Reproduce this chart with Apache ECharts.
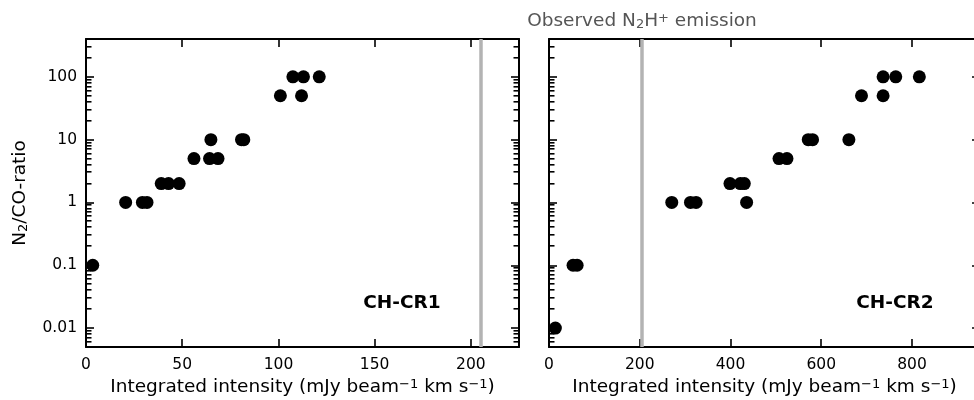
<!DOCTYPE html>
<html><head><meta charset="utf-8">
<script src="https://cdn.jsdelivr.net/npm/echarts@6/dist/echarts.min.js"></script>
<style>html,body{margin:0;padding:0;background:#fff}#c{width:974px;height:400px}</style>
</head><body><div id="c"></div>
<script>
// ---- data ----
const cr1X = [3.5, 20.6, 29.3, 31.7, 39.1, 42.9, 48.4, 56.1, 64.2, 68.6, 64.9, 80.8, 82.0, 101.0, 112.0, 107.5, 113.0, 121.2];
const cr1Y = [0.1, 1, 1, 1, 2, 2, 2, 5, 5, 5, 10, 10, 10, 50, 50, 100, 100, 100];
const cr2X = [14, 53, 62, 270.6, 311.8, 324.2, 435.6, 398.9, 421.7, 430.5, 507, 524.5, 571.4, 580.9, 661, 688.8, 736.4, 736.4, 764.3, 816.3];
const cr2Y = [0.01, 0.1, 0.1, 1, 1, 1, 1, 2, 2, 2, 5, 5, 10, 10, 10, 50, 50, 100, 100, 100];
const yTickLabels = ['0.01', '0.1', '1', '10', '100'];
const xTicks1 = [0, 50, 100, 150, 200];
const xTicks2 = [0, 200, 400, 600, 800];
const emissionX = 205;
const panelNames = ['CH-CR1', 'CH-CR2'];

// ---- layout / style ----
const FONT = 'DejaVu Sans';
const TICK_FS = 15.5, NAME_FS = 18.5, SUB_FS = 13;
const X1 = [0, 225], X2 = [0, 950], YR = [0.005, 400];
const minorVals = [];
for (let e = -3; e <= 2; e++) {
  for (let m = 2; m <= 9; m++) {
    const v = Number((m * Math.pow(10, e)).toPrecision(3));
    if (v >= YR[0] && v <= YR[1]) minorVals.push(v);
  }
}
const zip = (a, b) => a.map((v, i) => [v, b[i]]);

function yLabel(v) {
  const e = Math.log10(v);
  if (Math.abs(e - Math.round(e)) > 1e-6) return '';
  const i = Math.round(e) + 2;
  return yTickLabels[i] || '';
}
const lineStyle = { color: '#000', width: 2 };
const majorTick = { show: true, inside: true, length: 8, lineStyle: { color: '#000', width: 1.6 } };
const xName = 'Integrated intensity (mJy beam{sup|\u22121} km s{sup|\u22121})';
const rich = {
  sup: { fontSize: SUB_FS, fontFamily: FONT, verticalAlign: 'top', color: '#000', lineHeight: 17 },
  sub: { fontSize: SUB_FS, fontFamily: FONT, verticalAlign: 'bottom', color: '#000', lineHeight: 17 }
};

function xAxes(gi, ext, ticks) {
  const step = ticks[1] - ticks[0];
  return [
    { type: 'value', gridIndex: gi, min: ext[0], max: ext[1], interval: step, position: 'bottom',
      axisLine: { show: true, onZero: false, lineStyle }, axisTick: majorTick, splitLine: { show: false },
      axisLabel: { show: true, margin: 10, fontFamily: FONT, fontSize: TICK_FS, color: '#000', showMaxLabel: false,
        formatter: v => ticks.includes(v) ? String(v) : '' },
      name: xName, nameLocation: 'middle', nameGap: 30,
      nameTextStyle: { fontFamily: FONT, fontSize: NAME_FS, color: '#000', rich } },
    { type: 'value', gridIndex: gi, min: ext[0], max: ext[1], interval: step, position: 'top',
      axisLine: { show: true, onZero: false, lineStyle }, axisTick: majorTick, splitLine: { show: false },
      axisLabel: { show: false } }
  ];
}
function yAxes(gi, showLabels) {
  const base = { type: 'log', logBase: 10, gridIndex: gi, min: YR[0], max: YR[1],
    axisLine: { show: true, onZero: false, lineStyle }, axisTick: majorTick, splitLine: { show: false } };
  const left = Object.assign({}, base, { position: 'left',
    axisLabel: { show: showLabels, margin: 9, fontFamily: FONT, fontSize: TICK_FS, color: '#000', formatter: yLabel,
      showMinLabel: false, showMaxLabel: false } });
  if (showLabels) Object.assign(left, {
    name: 'N{sub|2}/CO-ratio', nameLocation: 'middle', nameGap: 56, nameRotate: 90,
    nameTextStyle: { fontFamily: FONT, fontSize: NAME_FS, color: '#000', rich } });
  const right = Object.assign({}, base, { position: 'right', axisLabel: { show: false } });
  return [left, right];
}
function vline(withLabel) {
  return {
    symbol: 'none', silent: true, animation: false,
    lineStyle: { color: '#b3b3b3', width: 3.5, type: 'solid' },
    label: withLabel ? {
      show: true, position: 'end', distance: 8, color: '#555', fontFamily: FONT, fontSize: NAME_FS,
      formatter: 'Observed N{sub|2}H{sup|+} emission',
      rich: {
        sub: { fontSize: SUB_FS, fontFamily: FONT, verticalAlign: 'bottom', color: '#555', lineHeight: 19 },
        sup: { fontSize: SUB_FS, fontFamily: FONT, verticalAlign: 'top', color: '#555', lineHeight: 19 }
      }
    } : { show: false },
    data: [{ xAxis: emissionX }]
  };
}

const textEls = [
  { type: 'text', x: 402, y: 303, style: { text: panelNames[0], font: 'bold 18.5px "DejaVu Sans"', fill: '#000', align: 'center', verticalAlign: 'middle' } },
  { type: 'text', x: 895, y: 303, style: { text: panelNames[1], font: 'bold 18.5px "DejaVu Sans"', fill: '#000', align: 'center', verticalAlign: 'middle' } }
];

const chart = echarts.init(document.getElementById('c'), null, { renderer: 'canvas' });
chart.setOption({
  animation: false,
  backgroundColor: '#fff',
  grid: [
    { left: 86, top: 39, width: 433, height: 308, outerBoundsMode: 'none', containLabel: false },
    { left: 549, top: 39, width: 431, height: 308, outerBoundsMode: 'none', containLabel: false }
  ],
  xAxis: [...xAxes(0, X1, xTicks1), ...xAxes(1, X2, xTicks2)],
  yAxis: [...yAxes(0, true), ...yAxes(1, false)],
  series: [
    { type: 'scatter', xAxisIndex: 0, yAxisIndex: 0, data: zip(cr1X, cr1Y), symbolSize: 13,
      itemStyle: { color: '#000', opacity: 1 }, markLine: vline(false), z: 3 },
    { type: 'scatter', xAxisIndex: 2, yAxisIndex: 2, data: zip(cr2X, cr2Y), symbolSize: 13,
      itemStyle: { color: '#000', opacity: 1 }, markLine: vline(true), z: 3 }
  ],
  graphic: textEls
});

// minor log ticks, placed with the library's own scale (convertToPixel)
const minorEls = [];
[[0, X1], [1, X2]].forEach(([si, ext]) => {
  minorVals.forEach(v => {
    const pL = chart.convertToPixel({ seriesIndex: si }, [ext[0], v]);
    const pR = chart.convertToPixel({ seriesIndex: si }, [ext[1], v]);
    const yL = Math.round(pL[1]) - 1, yR = Math.round(pR[1]) - 1;
    minorEls.push({ type: 'rect', silent: true, z: 100, shape: { x: Math.round(pL[0]), y: yL, width: 5.5, height: 1.6 }, style: { fill: '#000' } });
    minorEls.push({ type: 'rect', silent: true, z: 100, shape: { x: Math.round(pR[0]) - 5.5, y: yR, width: 5.5, height: 1.6 }, style: { fill: '#000' } });
  });
});
chart.setOption({ graphic: { elements: textEls.concat(minorEls) } }, { replaceMerge: ['graphic'] });
</script></body></html>
